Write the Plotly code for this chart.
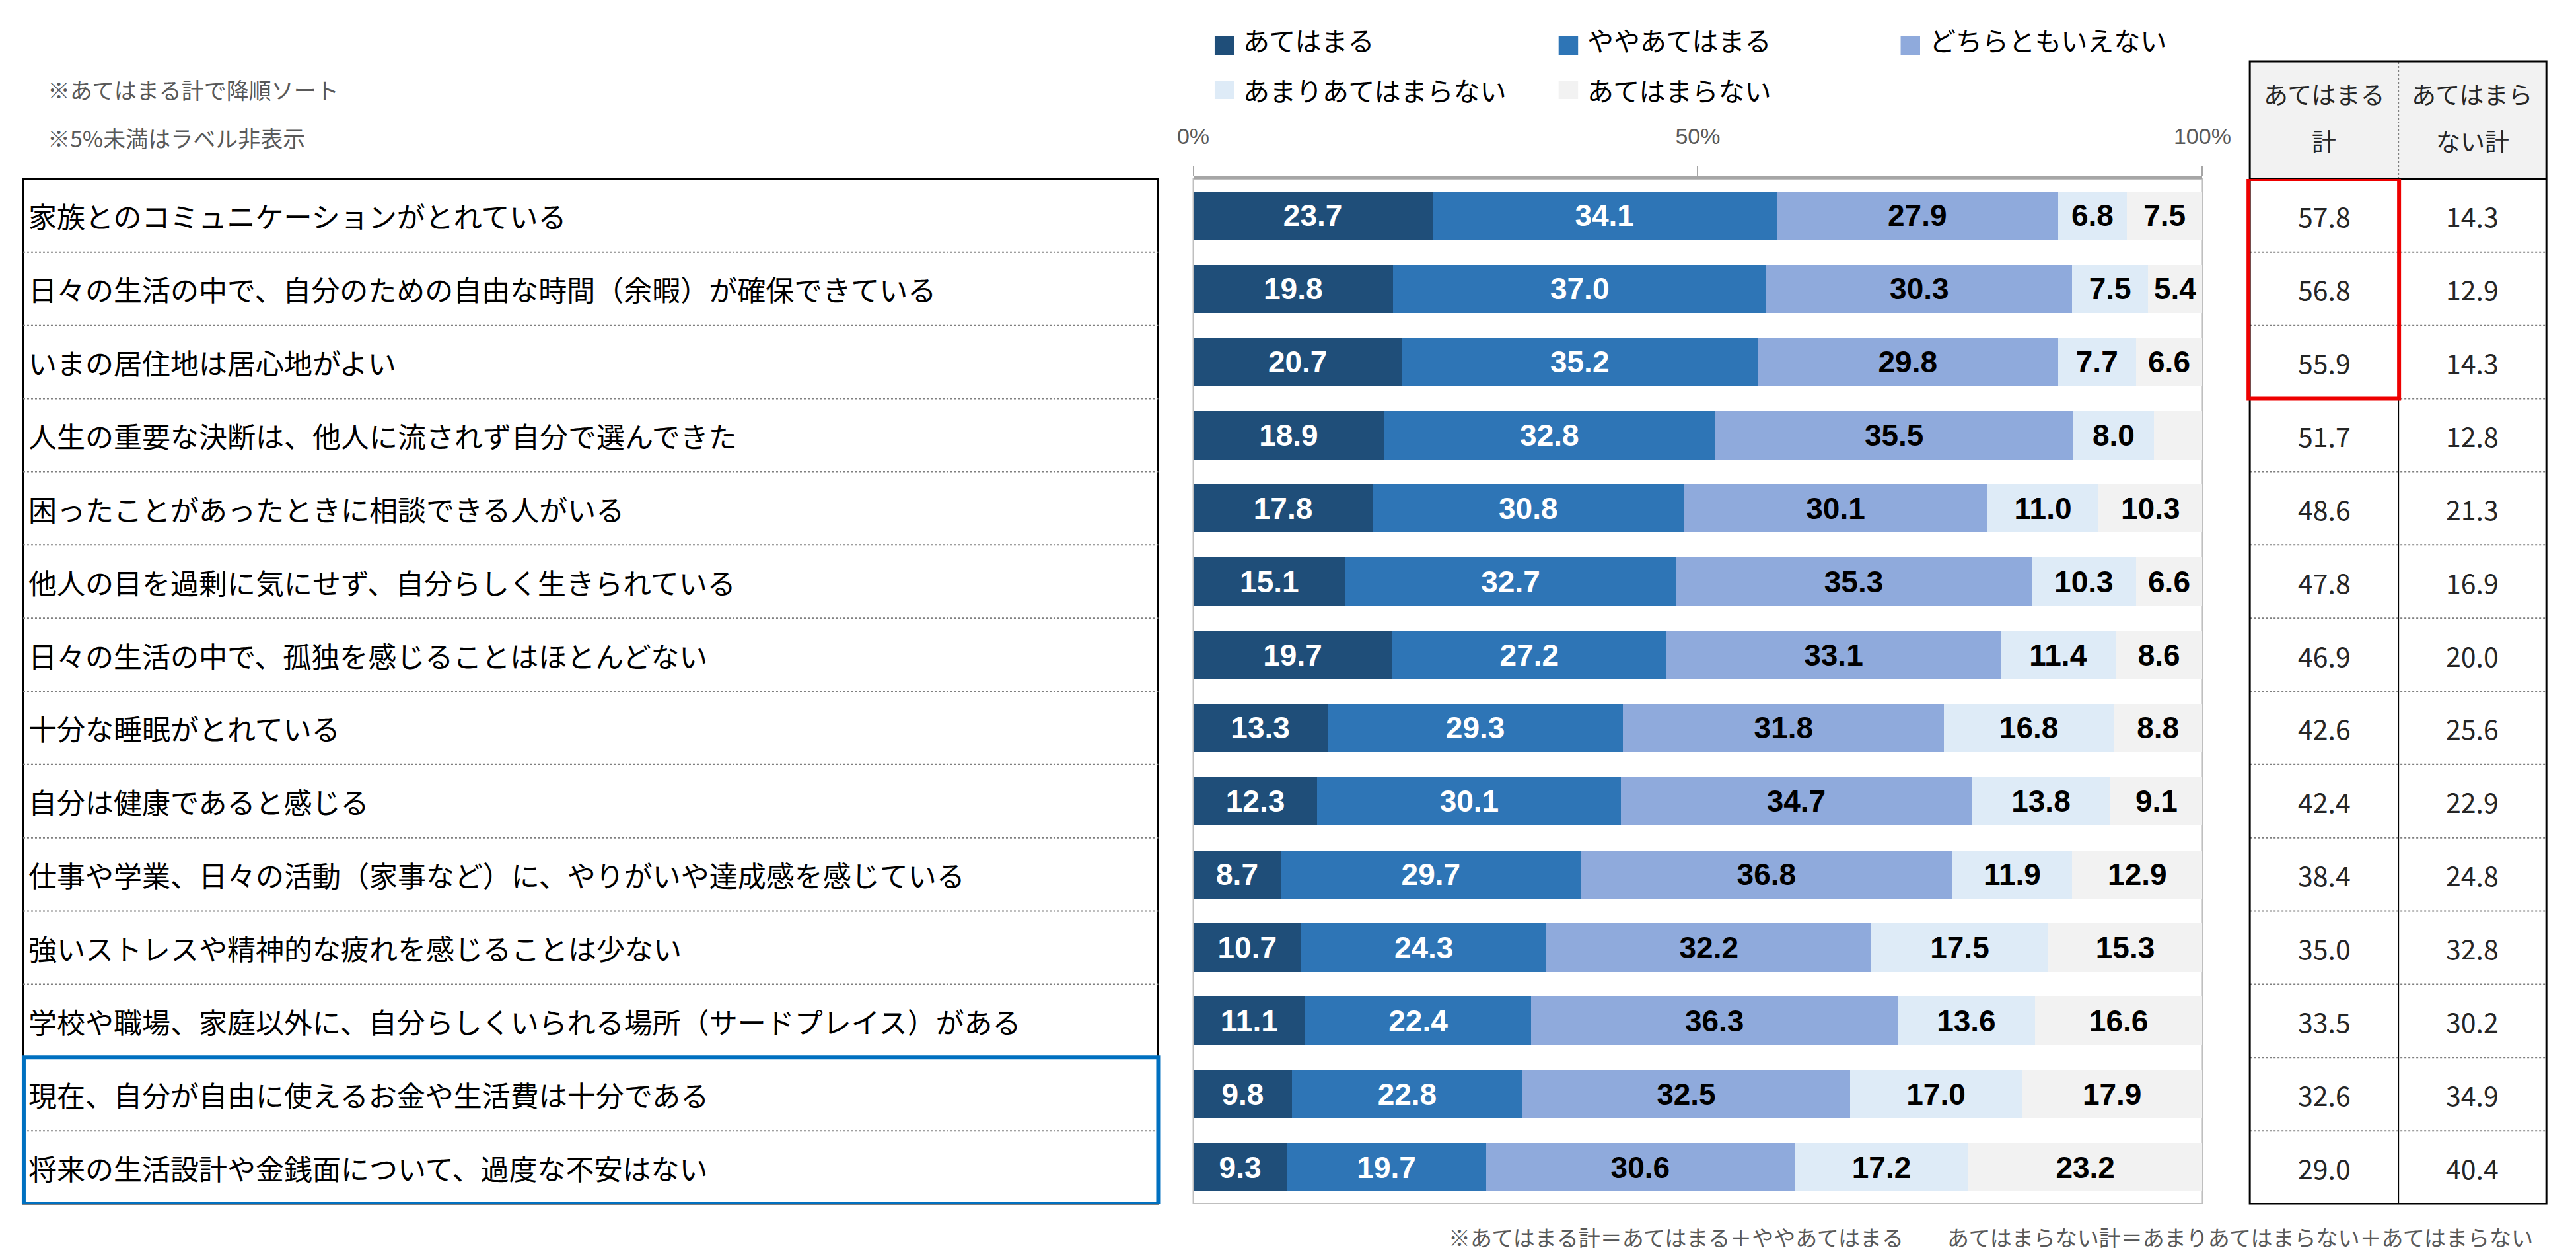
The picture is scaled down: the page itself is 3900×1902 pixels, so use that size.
import plotly.graph_objects as go

# ---- data ----
items = [
    "家族とのコミュニケーションがとれている",
    "日々の生活の中で、自分のための自由な時間（余暇）が確保できている",
    "いまの居住地は居心地がよい",
    "人生の重要な決断は、他人に流されず自分で選んできた",
    "困ったことがあったときに相談できる人がいる",
    "他人の目を過剰に気にせず、自分らしく生きられている",
    "日々の生活の中で、孤独を感じることはほとんどない",
    "十分な睡眠がとれている",
    "自分は健康であると感じる",
    "仕事や学業、日々の活動（家事など）に、やりがいや達成感を感じている",
    "強いストレスや精神的な疲れを感じることは少ない",
    "学校や職場、家庭以外に、自分らしくいられる場所（サードプレイス）がある",
    "現在、自分が自由に使えるお金や生活費は十分である",
    "将来の生活設計や金銭面について、過度な不安はない",
]

atehamaru = [23.7, 19.8, 20.7, 18.9, 17.8, 15.1, 19.7, 13.3, 12.3, 8.7, 10.7, 11.1, 9.8, 9.3]
yaya_atehamaru = [34.1, 37.0, 35.2, 32.8, 30.8, 32.7, 27.2, 29.3, 30.1, 29.7, 24.3, 22.4, 22.8, 19.7]
dochiratomo = [27.9, 30.3, 29.8, 35.5, 30.1, 35.3, 33.1, 31.8, 34.7, 36.8, 32.2, 36.3, 32.5, 30.6]
amari = [6.8, 7.5, 7.7, 8.0, 11.0, 10.3, 11.4, 16.8, 13.8, 11.9, 17.5, 13.6, 17.0, 17.2]
atehamaranai = [7.5, 5.4, 6.6, 4.8, 10.3, 6.6, 8.6, 8.8, 9.1, 12.9, 15.3, 16.6, 17.9, 23.2]

total_yes = [57.8, 56.8, 55.9, 51.7, 48.6, 47.8, 46.9, 42.6, 42.4, 38.4, 35.0, 33.5, 32.6, 29.0]
total_no = [14.3, 12.9, 14.3, 12.8, 21.3, 16.9, 20.0, 25.6, 22.9, 24.8, 32.8, 30.2, 34.9, 40.4]

series_names = ["あてはまる", "ややあてはまる", "どちらともいえない", "あまりあてはまらない", "あてはまらない"]
series_values = [atehamaru, yaya_atehamaru, dochiratomo, amari, atehamaranai]
series_colors = ["#1f4e79", "#2e75b6", "#8faadc", "#deebf7", "#f2f2f2"]
label_colors = ["white", "white", "black", "black", "black"]

table_headers = [["あてはまる", "計"], ["あてはまら", "ない計"]]
notes = ["※あてはまる計で降順ソート", "※5%未満はラベル非表示"]
footer = "※あてはまる計＝あてはまる＋ややあてはまる　　あてはまらない計＝あまりあてはまらない＋あてはまらない"

W, H = 3900, 1902
JP = "Noto Sans CJK JP"


# pixel -> paper helpers
def px(x):
    return x / W


def py(y):
    return 1 - y / H


fig = go.Figure()

# stacked bars
for name, vals, col, lc in zip(series_names, series_values, series_colors, label_colors):
    # labels under 5% are hidden
    txt = [f"{v:.1f}" if v >= 5 else "" for v in vals]
    fig.add_trace(go.Bar(
        y=items, x=vals, name=name, orientation="h",
        marker=dict(color=col, line=dict(width=0)),
        text=txt, textposition="inside", insidetextanchor="middle",
        constraintext="none",
        textfont=dict(family="Liberation Sans, Arial", size=46, color=lc, weight="bold"),
        showlegend=False,
    ))

shapes = []
annotations = []

# plot area frame
shapes.append(dict(type="rect", xref="x domain", yref="y domain", x0=0, x1=1, y0=0, y1=1,
                   line=dict(color="#bfbfbf", width=2), layer="below"))

# left label box
box_r = px(1751)
shapes.append(dict(type="rect", xref="paper", yref="paper", x0=px(2), x1=box_r,
                   y0=py(1815), y1=py(263), line=dict(color="black", width=3)))
for i in range(1, len(items)):
    shapes.append(dict(type="line", xref="paper", yref="y", x0=px(2), x1=box_r,
                       y0=i - 0.5, y1=i - 0.5, line=dict(color="#7f7f7f", width=2, dash="dot")))
# blue highlight on the money rows
shapes.append(dict(type="rect", xref="paper", yref="y", x0=px(3), x1=box_r,
                   y0=len(items) - 2.5, y1=len(items) - 0.5, line=dict(color="#0070c0", width=6)))

for it in items:
    annotations.append(dict(x=px(8), y=it, xref="paper", yref="y", text=it, showarrow=False,
                            xanchor="left", yanchor="middle", font=dict(family=JP, size=43, color="black")))

# right table
t_l, t_m, t_r = px(3433), px(3662), px(3890)
shapes.append(dict(type="rect", xref="paper", yref="paper", x0=t_l, x1=t_r, y0=py(263), y1=py(85),
                   fillcolor="#f2f2f2", line=dict(width=0), layer="below"))
shapes.append(dict(type="line", xref="paper", yref="paper", x0=t_m, x1=t_m, y0=py(263), y1=py(85),
                   line=dict(color="#7f7f7f", width=2, dash="dot")))
shapes.append(dict(type="line", xref="paper", yref="paper", x0=t_m, x1=t_m, y0=py(1815), y1=py(263),
                   line=dict(color="black", width=2)))
for i in range(1, len(items)):
    shapes.append(dict(type="line", xref="paper", yref="y", x0=t_l, x1=t_r,
                       y0=i - 0.5, y1=i - 0.5, line=dict(color="#7f7f7f", width=2, dash="dot")))
shapes.append(dict(type="line", xref="paper", yref="paper", x0=t_l, x1=t_r, y0=py(263), y1=py(263),
                   line=dict(color="black", width=4)))
shapes.append(dict(type="rect", xref="paper", yref="paper", x0=t_l, x1=t_r, y0=py(1815), y1=py(85),
                   line=dict(color="black", width=3)))
# red highlight on top 3
shapes.append(dict(type="rect", xref="paper", yref="y", x0=px(3431), x1=px(3663),
                   y0=-0.5, y1=2.5, line=dict(color="#ee0000", width=6)))

col_centers = [(3433 + 3662) / 2, (3662 + 3890) / 2]
for cx, lines in zip(col_centers, table_headers):
    for ly, t in zip([134, 205], lines):
        annotations.append(dict(x=px(cx), y=py(ly), xref="paper", yref="paper", text=t, showarrow=False,
                                xanchor="center", yanchor="middle", font=dict(family=JP, size=37, color="#262626")))
for cx, vals in zip(col_centers, [total_yes, total_no]):
    for it, v in zip(items, vals):
        annotations.append(dict(x=px(cx), y=it, xref="paper", yref="y", text=f"{v:.1f}", showarrow=False,
                                xanchor="center", yanchor="middle", font=dict(family=JP, size=41, color="#262626")))

# legend (drawn by hand, 3 + 2 layout)
leg_pos = [(1838, 61, 52), (2368, 61, 52), (2895, 61, 52), (1838, 128, 128), (2368, 128, 128)]
for (lx, sy, ty), name, col in zip(leg_pos, series_names, series_colors):
    shapes.append(dict(type="rect", xref="paper", yref="paper", x0=px(lx), x1=px(lx + 30),
                       y0=py(sy + 14), y1=py(sy - 14), fillcolor=col, line=dict(width=0)))
    annotations.append(dict(x=px(lx + 42), y=py(ty), xref="paper", yref="paper", text=name, showarrow=False,
                            xanchor="left", yanchor="middle", font=dict(family=JP, size=40, color="black")))

# notes
for ny, t in zip([127, 200], notes):
    annotations.append(dict(x=px(38), y=py(ny), xref="paper", yref="paper", text=t, showarrow=False,
                            xanchor="left", yanchor="middle", font=dict(family=JP, size=34, color="#595959")))
annotations.append(dict(x=px(3872), y=py(1865), xref="paper", yref="paper", text=footer, showarrow=False,
                        xanchor="right", yanchor="middle", font=dict(family=JP, size=33, color="#595959")))

fig.update_layout(
    width=W, height=H, autosize=False,
    margin=dict(l=0, r=0, t=0, b=0),
    paper_bgcolor="white", plot_bgcolor="white",
    barmode="stack", bargap=0.34,
    uniformtext=dict(minsize=46, mode="show"),
    shapes=shapes, annotations=annotations,
    xaxis=dict(domain=[px(1805), px(3360)], range=[0, 100], side="top",
               tickvals=[0, 50, 100], ticktext=["0%", "50%", "100%"],
               ticks="outside", ticklen=15, tickwidth=2, tickcolor="#a6a6a6",
               showline=True, linecolor="#a6a6a6", linewidth=4,
               showgrid=False, zeroline=False, ticklabelstandoff=20,
               tickfont=dict(family="Liberation Sans, Arial", size=34, color="#595959")),
    yaxis=dict(domain=[py(1815), py(263)], type="category", categoryorder="array", categoryarray=items,
               range=[len(items) - 0.5, -0.5], showticklabels=False, showgrid=False,
               zeroline=False, showline=False),
)

fig.write_html("out.html")
